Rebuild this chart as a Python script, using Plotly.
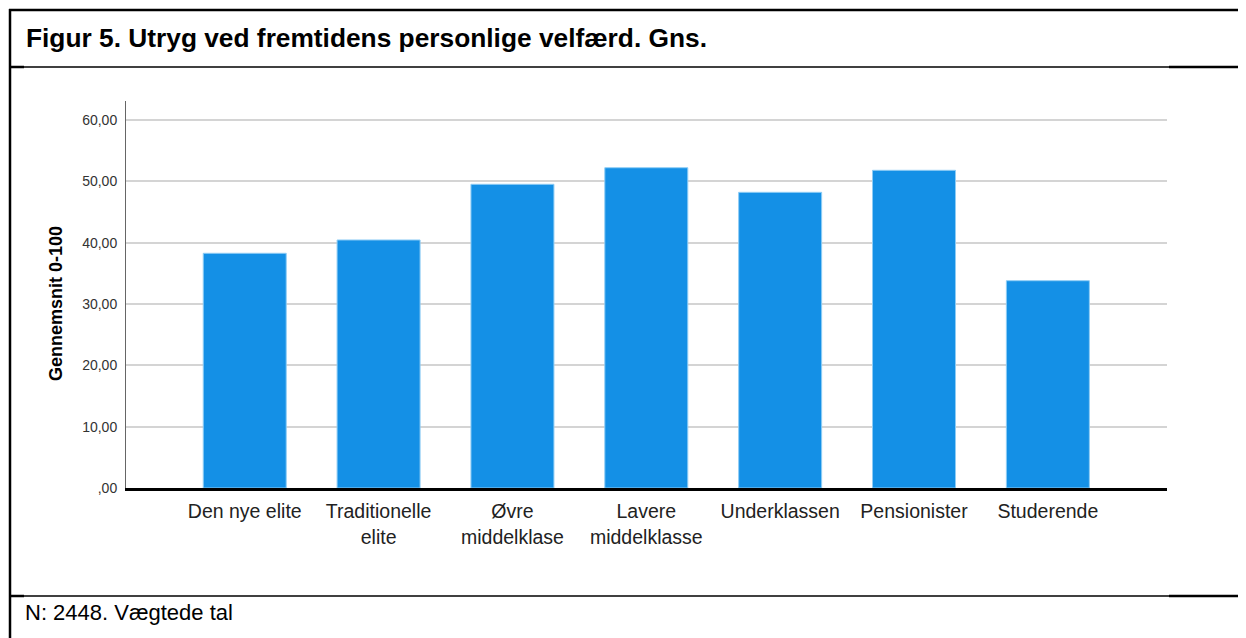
import plotly.graph_objects as go

categories = ["Den nye elite", "Traditionelle<br>elite", "Øvre<br>middelklase",
              "Lavere<br>middelklasse", "Underklassen", "Pensionister", "Studerende"]
values = [38.27, 40.44, 49.52, 52.22, 48.21, 51.80, 33.80]
y_tickvals = [0, 10, 20, 30, 40, 50, 60]
y_ticktext = [",00", "10,00", "20,00", "30,00", "40,00", "50,00", "60,00"]

title_text = "Figur 5. Utryg ved fremtidens personlige velfærd. Gns."
footer_text = "N: 2448. Vægtede tal"
ytitle_text = "Gennemsnit 0-100"

# page has an 8px body margin, so work in page pixels and shift back
OFF = 8
W, H = 1246 - OFF, 638 - OFF
L, R, T, B = 126 - OFF, 1167 - OFF, 101 - OFF, 488 - OFF


def px(x):
  return (x - OFF - L) / (R - L)


def py(y):
  return (B - (y - OFF)) / (B - T)


trace = go.Bar(
    x=list(range(len(categories))),
    y=values,
    width=0.62,
    marker=dict(color="#1490e6", line=dict(color="#8fcdf5", width=1)),
    hoverinfo="skip",
)

layout = go.Layout(
    width=W,
    height=H,
    margin=dict(l=L, r=W - R, t=T, b=H - B),
    paper_bgcolor="white",
    plot_bgcolor="white",
    showlegend=False,
    font=dict(family="Liberation Sans, Arial, sans-serif", color="#222"),
    xaxis=dict(
        range=[-0.887, 6.89],
        tickvals=list(range(len(categories))),
        ticktext=categories,
        showline=True, linecolor="black", linewidth=3,
        showgrid=False, zeroline=False, ticks="",
        tickfont=dict(size=19.5, color="#222"),
        ticklabelstandoff=4,
        fixedrange=True,
    ),
    yaxis=dict(
        range=[0, 63.1],
        tickvals=y_tickvals,
        ticktext=y_ticktext,
        showline=True, linecolor="#666", linewidth=1,
        showgrid=True, gridcolor="#d4d4d4", gridwidth=1.5,
        zeroline=False, ticks="",
        tickfont=dict(size=14, color="#333"),
        ticklabelstandoff=5,
        fixedrange=True,
    ),
)

fig = go.Figure(data=[trace], layout=layout)

# frame lines of the table around the figure
lines = [
    (9, 10, 1246, 10, 2.5),
    (10, 9, 10, 638, 2.5),
    (10, 67, 1169, 67, 1.3),
    (1169, 67, 1246, 67, 2.5),
    (10, 67, 24, 67, 2.5),
    (10, 596, 1169, 596, 1.3),
    (1169, 596, 1246, 596, 2.5),
    (10, 596, 24, 596, 2.5),
]
for x0, y0, x1, y1, w in lines:
  fig.add_shape(type="line", xref="paper", yref="paper",
                x0=px(x0), y0=py(y0), x1=px(x1), y1=py(y1),
                line=dict(color="black", width=w))

fig.add_annotation(text="<b>" + title_text + "</b>", xref="paper", yref="paper",
                   x=px(24), y=py(38), xanchor="left", yanchor="middle",
                   showarrow=False, font=dict(size=26.3, color="black"))
fig.add_annotation(text=footer_text, xref="paper", yref="paper",
                   x=px(23), y=py(612), xanchor="left", yanchor="middle",
                   showarrow=False, font=dict(size=22, color="black"))
fig.add_annotation(text="<b>" + ytitle_text + "</b>", xref="paper", yref="paper",
                   x=px(56), y=py(304), xanchor="center", yanchor="middle",
                   textangle=-90, showarrow=False, font=dict(size=18, color="black"))

fig.write_html("out.html")
